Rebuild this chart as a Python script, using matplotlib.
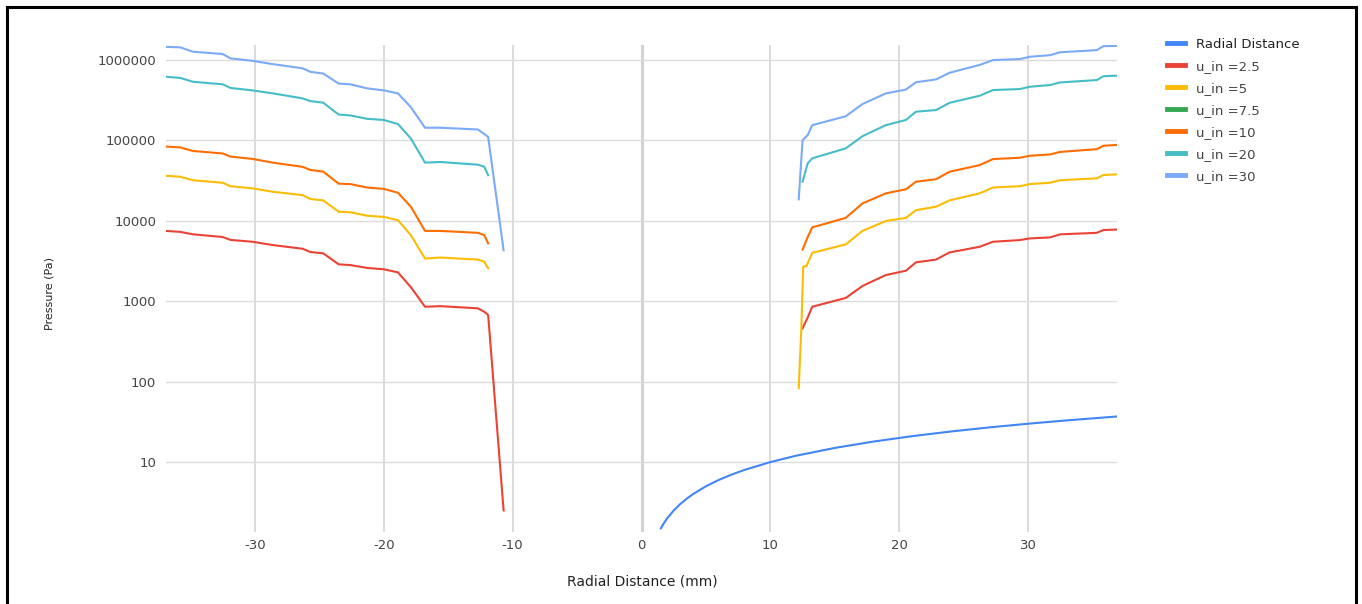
import matplotlib
matplotlib.use('Agg')
import matplotlib.pyplot as plt
from matplotlib.patches import Rectangle
from matplotlib.ticker import FixedLocator, FuncFormatter

# %%
# Data

radial_x = [1.5, 1.75, 2, 2.5, 3, 3.5, 4, 5, 6, 7, 8, 10, 12, 15, 18, 21, 24, 27, 30,
            33, 36.9]
radial_y = [1.5, 1.75, 2, 2.5, 3, 3.5, 4, 5, 6, 7, 8, 10, 12, 15, 18, 21, 24, 27, 30,
            33, 36.9]

x_left = [-36.9, -35.8, -34.8, -32.5, -31.9, -30.2, -28.6, -26.3, -25.7, -24.7,
          -23.5, -22.6, -21.3, -20.0, -18.9, -17.9, -16.8, -15.6, -12.7]
x_right = [12.5, 12.9, 13.25, 15.85, 17.15, 18.96, 20.52, 21.3, 22.86, 23.9,
           26.24, 27.28, 29.36, 30.14, 31.7, 32.48, 35.33, 35.85, 36.9]

# u_in = 2.5
p25_left = [7.5e3, 7.3e3, 6.8e3, 6.3e3, 5.8e3, 5.5e3, 5.0e3, 4.5e3, 4.1e3, 3.95e3,
            2.88e3, 2.82e3, 2.6e3, 2.5e3, 2.29e3, 1.5e3, 855, 870, 817]
p25_left_tail_x = [-12.2, -11.9, -10.7]
p25_left_tail = [740, 673, 2.5]
p25_right = [460, 630, 855, 1.1e3, 1.55e3, 2.12e3, 2.4e3, 3.05e3, 3.3e3, 4.05e3,
             4.76e3, 5.5e3, 5.77e3, 6.05e3, 6.23e3, 6.8e3, 7.1e3, 7.7e3, 7.8e3]

# u_in = 5
p5_left = [3.64e4, 3.54e4, 3.2e4, 2.98e4, 2.7e4, 2.54e4, 2.3e4, 2.09e4, 1.87e4, 1.8e4,
           1.3e4, 1.28e4, 1.16e4, 1.12e4, 1.02e4, 6.65e3, 3.4e3, 3.5e3, 3.3e3]
p5_left_tail_x = [-12.2, -11.9]
p5_left_tail = [3.1e3, 2.57e3]
p5_right_head_x = [12.2, 12.4, 12.55, 12.8]
p5_right_head = [83, 438, 2.7e3, 2.74e3]
p5_right = [4.0e3, 5.1e3, 7.5e3, 9.95e3, 1.09e4, 1.36e4, 1.5e4, 1.8e4, 2.2e4,
            2.6e4, 2.7e4, 2.87e4, 2.98e4, 3.2e4, 3.38e4, 3.72e4, 3.79e4]

# u_in = 7.5 (hidden in the reference, legend only)
p75_x = []
p75 = []

# u_in = 10
p10_left = [8.4e4, 8.2e4, 7.4e4, 6.9e4, 6.3e4, 5.9e4, 5.3e4, 4.7e4, 4.3e4, 4.1e4,
            2.9e4, 2.87e4, 2.6e4, 2.5e4, 2.24e4, 1.5e4, 7.5e3, 7.5e3, 7.1e3]
p10_left_tail_x = [-12.2, -11.9]
p10_left_tail = [6.65e3, 5.25e3]
p10_right = [4.4e3, 6.3e3, 8.3e3, 1.09e4, 1.65e4, 2.2e4, 2.47e4, 3.07e4, 3.3e4, 4.08e4,
             4.94e4, 5.87e4, 6.1e4, 6.46e4, 6.7e4, 7.2e4, 7.8e4, 8.6e4, 8.8e4]

# u_in = 20
p20_left = [6.2e5, 6.0e5, 5.37e5, 5.0e5, 4.5e5, 4.2e5, 3.85e5, 3.34e5, 3.09e5, 2.95e5,
            2.1e5, 2.05e5, 1.86e5, 1.8e5, 1.6e5, 1.06e5, 5.3e4, 5.4e4, 5.0e4]
p20_left_tail_x = [-12.2, -11.9]
p20_left_tail = [4.7e4, 3.7e4]
p20_right = [3.07e4, 5.2e4, 6.0e4, 7.98e4, 1.13e5, 1.55e5, 1.8e5, 2.28e5, 2.39e5, 2.94e5,
             3.6e5, 4.24e5, 4.36e5, 4.66e5, 4.89e5, 5.27e5, 5.64e5, 6.3e5, 6.4e5]

# u_in = 30
p30_left = [1.46e6, 1.44e6, 1.27e6, 1.19e6, 1.05e6, 9.8e5, 8.9e5, 7.9e5, 7.15e5, 6.8e5,
            5.1e5, 5.0e5, 4.45e5, 4.2e5, 3.85e5, 2.6e5, 1.44e5, 1.44e5, 1.37e5]
p30_left_tail_x = [-11.9, -10.7]
p30_left_tail = [1.11e5, 4.3e3]
p30_right_head_x = [12.2]
p30_right_head = [1.85e4]
p30_right = [1.01e5, 1.17e5, 1.55e5, 2.0e5, 2.84e5, 3.85e5, 4.3e5, 5.3e5, 5.75e5, 6.95e5,
             8.7e5, 1.0e6, 1.03e6, 1.1e6, 1.15e6, 1.25e6, 1.33e6, 1.49e6, 1.5e6]

y_ticks = [10, 100, 1000, 10000, 100000, 1000000]
x_ticks = [-30, -20, -10, 0, 10, 20, 30]

# %%
# Series: (label, color, left x, left y, right x, right y)

series = [
    ('u_in =2.5', '#EA4335', x_left + p25_left_tail_x, p25_left + p25_left_tail,
     x_right, p25_right),
    ('u_in =5', '#FBBC04', x_left + p5_left_tail_x, p5_left + p5_left_tail,
     p5_right_head_x + x_right[2:], p5_right_head + p5_right),
    ('u_in =7.5', '#34A853', p75_x, p75, p75_x, p75),
    ('u_in =10', '#FF6D01', x_left + p10_left_tail_x, p10_left + p10_left_tail,
     x_right, p10_right),
    ('u_in =20', '#46BDC6', x_left + p20_left_tail_x, p20_left + p20_left_tail,
     x_right, p20_right),
    ('u_in =30', '#7BAAF7', x_left + p30_left_tail_x, p30_left + p30_left_tail,
     p30_right_head_x + x_right, p30_right_head + p30_right),
]

plt.rcParams['font.family'] = 'DejaVu Sans'
plt.rcParams['axes.unicode_minus'] = False

fig = plt.figure(figsize=(13.62, 6.04), dpi=100)
axis = fig.add_axes([166 / 1362, 1 - 532 / 604, 951 / 1362, 487 / 604])

handles = []
h, = axis.plot(radial_x, radial_y, color='#4285F4', lw=1.5, label='Radial Distance')
handles.append(h)
for label, color, xl, yl, xr, yr in series:
    h, = axis.plot(xl, yl, color=color, lw=1.5, label=label)
    axis.plot(xr, yr, color=color, lw=1.5)
    handles.append(h)

axis.set_yscale('log')
axis.set_xlim(-36.9, 36.9)
axis.set_ylim(1.35, 1.54e6)

axis.yaxis.set_major_locator(FixedLocator(y_ticks))
axis.yaxis.set_minor_locator(FixedLocator([]))
axis.yaxis.set_major_formatter(FuncFormatter(lambda v, _: f'{v:.0f}'))
axis.set_xticks(x_ticks)

for side in axis.spines.values():
    side.set_visible(False)

axis.tick_params(axis='both', length=0, labelsize=9.5, labelcolor='#444444')
axis.tick_params(axis='y', pad=7)
axis.tick_params(axis='x', pad=5)

axis.grid(axis='y', color='#dcdcdc', lw=1.0)
axis.grid(axis='x', color='#d4d4d4', lw=1.2)
axis.axvline(0, color='#c4c4c4', lw=1.8, zorder=0.5)
axis.set_axisbelow(True)

axis.set_xlabel('Radial Distance (mm)', fontsize=10, color='#222222')
axis.xaxis.set_label_coords(0.5005, -0.088)
axis.set_ylabel('Pressure (Pa)', fontsize=8, color='#222222')
axis.yaxis.set_label_coords(-0.117, 0.489)

leg = fig.legend(handles=handles, loc='upper left', bbox_to_anchor=(1167 / 1362, 1 - 38 / 604),
                 frameon=False, fontsize=9.5, handlelength=1.35, handletextpad=0.85,
                 labelspacing=0.68, borderpad=0, borderaxespad=0)
for line in leg.get_lines():
    line.set_linewidth(3.5)
for text in leg.get_texts():
    text.set_color('#444444')
leg.get_texts()[0].set_color('#222222')

fig.patches.append(Rectangle((7 / 1362, -0.02), 1349 / 1362, 1.02 - 7 / 604,
                             transform=fig.transFigure, fill=False,
                             edgecolor='black', lw=2.2))

fig.savefig('out.png', dpi=100)
